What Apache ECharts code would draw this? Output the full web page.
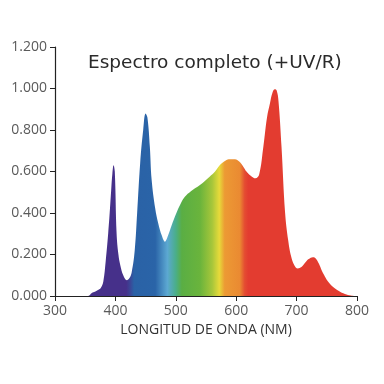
<!DOCTYPE html>
<html>
<head>
<meta charset="utf-8">
<script src="https://cdn.jsdelivr.net/npm/echarts@6/dist/echarts.min.js"></script>
<style>html,body{margin:0;padding:0;background:#fff;}#c{width:384px;height:384px;}</style>
</head>
<body>
<div id="c"></div>
<script>
const wavelengths = [300,355,361,366,372,376,380,384,388,391,393,395,397,399,402,405,408,413,419,423,427,432,436,441,446,450,453,457,460,466,471,477,482,487,493,501,508,515,525,540,556,565,573,582,590,598,605,612,617,624,632,638,645,651,656,660,664,667,670,675,681,686,691,696,702,708,714,720,727,732,737,742,747,752,760,770,780,790,800];
const intensity = [0,0,0.014,0.02,0.03,0.04,0.07,0.17,0.3,0.42,0.51,0.59,0.63,0.6,0.3,0.2,0.15,0.1,0.076,0.085,0.115,0.22,0.4,0.64,0.8,0.88,0.86,0.72,0.56,0.42,0.35,0.29,0.262,0.29,0.34,0.40,0.445,0.478,0.505,0.535,0.575,0.6,0.631,0.652,0.659,0.659,0.648,0.622,0.6,0.58,0.567,0.585,0.72,0.86,0.93,0.98,0.996,0.99,0.94,0.72,0.4,0.27,0.19,0.15,0.133,0.14,0.16,0.178,0.187,0.18,0.155,0.12,0.093,0.07,0.045,0.024,0.01,0.003,0];
const yTicks = [0,0.2,0.4,0.6,0.8,1.0,1.2];
const xTicks = [300,400,500,600,700,800];
const titleText = 'Espectro completo (+UV/R)';
const xName = 'LONGITUD DE ONDA (NM)';

const FONT = 'Open Sans';
const chart = echarts.init(document.getElementById('c'), null, {renderer:'canvas'});
const stops = [
  [300,'#46308a'],[418,'#46308a'],[425,'#3a4898'],[431,'#2a62a6'],[466,'#2a64a8'],
  [486,'#5ca8d2'],[500,'#4aae8a'],[510,'#5aae44'],[540,'#6ab43c'],[560,'#a6c63a'],
  [572,'#e6da3a'],[581,'#ec9a34'],[606,'#ea8a32'],[614,'#e44c32'],[620,'#e33c30'],[800,'#e33c30']
].map(s => ({offset:(s[0]-300)/500, color:s[1]}));

chart.setOption({
  animation:false,
  title:{text:titleText,left:83,top:49,textStyle:{fontFamily:'DejaVu Sans',fontSize:18.5,fontWeight:'normal',color:'#2a2a2a'}},
  grid:{left:55,right:27,top:47,bottom:88},
  xAxis:{type:'value',min:300,max:800,interval:100,
    name:xName,nameLocation:'middle',nameGap:27,
    nameTextStyle:{fontFamily:FONT,fontSize:14,color:'#333'},
    axisLine:{lineStyle:{color:'#222',width:1.2}},
    axisTick:{length:5,lineStyle:{color:'#222'}},
    axisLabel:{fontFamily:FONT,fontSize:14,color:'#5a5a5a',margin:8},
    splitLine:{show:false}},
  yAxis:{type:'value',min:0,max:1.2,interval:0.2,
    axisLine:{show:true,lineStyle:{color:'#222',width:1.2}},
    axisTick:{show:true,length:5,lineStyle:{color:'#222'}},
    axisLabel:{fontFamily:FONT,fontSize:14,color:'#5a5a5a',margin:8,formatter:v=>v.toFixed(3)},
    splitLine:{show:false}},
  series:[{type:'line',smooth:0.4,showSymbol:false,
    data:wavelengths.map((w,i)=>[w,intensity[i]]),
    lineStyle:{width:0},
    areaStyle:{opacity:1,color:new echarts.graphic.LinearGradient(0,0,1,0,stops)}}]
});
</script>
</body>
</html>
